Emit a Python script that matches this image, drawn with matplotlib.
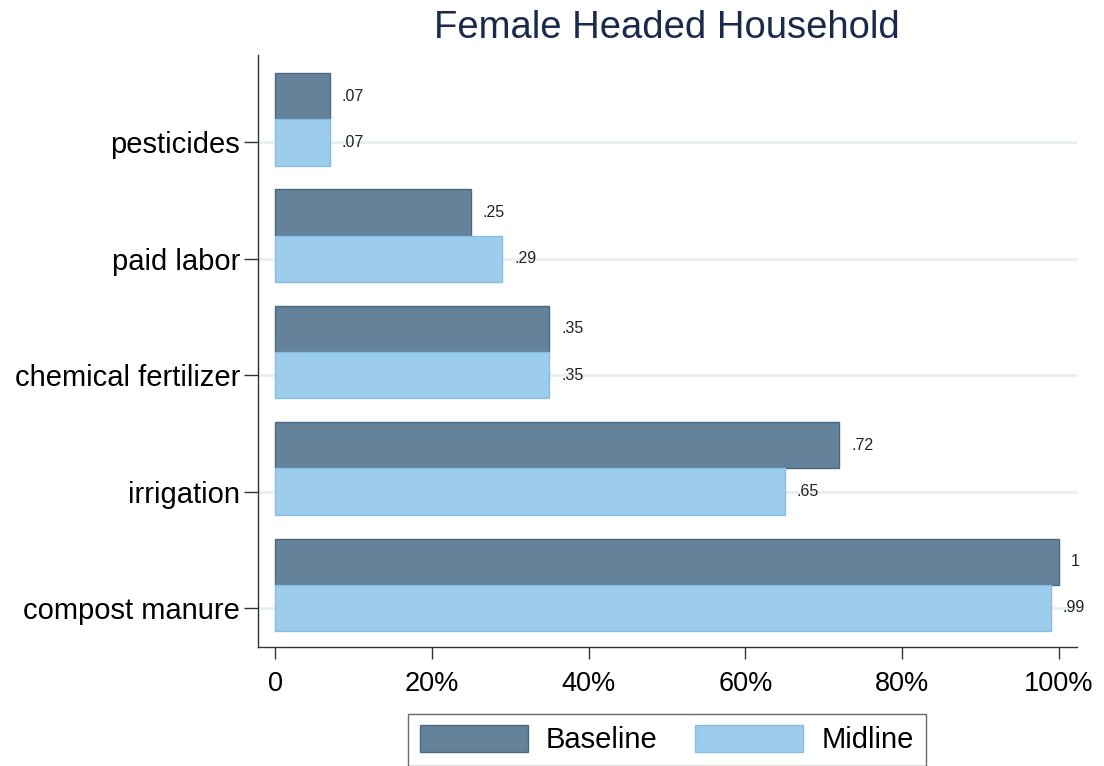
import matplotlib
matplotlib.use("Agg")
import matplotlib.pyplot as plt
import numpy as np
from matplotlib.patches import Patch

categories = ["compost manure", "irrigation", "chemical fertilizer", "paid labor", "pesticides"]
baseline = [1.00, 0.72, 0.35, 0.25, 0.07]
midline = [0.99, 0.65, 0.35, 0.29, 0.07]
baseline_labels = ["1", ".72", ".35", ".25", ".07"]
midline_labels = [".99", ".65", ".35", ".29", ".07"]
xticks = [0, 0.2, 0.4, 0.6, 0.8, 1.0]
xticklabels = ["0", "20%", "40%", "60%", "80%", "100%"]

plt.rcParams['font.family'] = ['Liberation Sans', 'DejaVu Sans']

fig = plt.figure(figsize=(11.04, 7.66), dpi=100)
ax = fig.add_axes([0.2337, 0.1554, 0.9755 - 0.2337, 0.928 - 0.1554])

pos = np.arange(len(categories))
h = 0.397
c_base = "#64829a"
e_base = "#4a6a82"
c_mid = "#9dcdec"
e_mid = "#86bde4"

for y in pos:
    ax.axhline(y, color="#e6eff3", lw=2, zorder=0)

ax.barh(pos + h, baseline, height=h, color=c_base, edgecolor=e_base, lw=1, zorder=2)
ax.barh(pos, midline, height=h, color=c_mid, edgecolor=e_mid, lw=1, zorder=2)

for y, v, t in zip(pos, baseline, baseline_labels):
    ax.text(v + 0.015, y + h, t, va="center", ha="left", fontsize=11.5, color="#222222")
for y, v, t in zip(pos, midline, midline_labels):
    ax.text(v + 0.015, y, t, va="center", ha="left", fontsize=11.5, color="#222222")

ax.set_xlim(-0.0217, 1.023)
ax.set_ylim(-0.336, 4.75)
ax.set_yticks(pos)
ax.set_yticklabels(categories, fontsize=21)
ax.set_xticks(xticks)
ax.set_xticklabels(xticklabels, fontsize=19.5)
ax.tick_params(axis="y", length=10, width=1, color="#333333", pad=3)
ax.tick_params(axis="x", length=8.6, width=1, color="#333333", pad=9)

for s in ["top", "right"]:
    ax.spines[s].set_visible(False)
for s in ["left", "bottom"]:
    ax.spines[s].set_color("#333333")
    ax.spines[s].set_linewidth(1)

fig.text(0.604, 0.963, "Female Headed Household", ha="center", va="center",
         fontsize=27.5, color="#1a2a4a")

handles = [Patch(facecolor=c_base, edgecolor=e_base, label="Baseline"),
           Patch(facecolor=c_mid, edgecolor=e_mid, label="Midline")]
leg = fig.legend(handles=handles, loc="center", bbox_to_anchor=(0.604, 0.034), ncol=2,
                 fontsize=21, frameon=True, fancybox=False, edgecolor="#444444",
                 handlelength=3.7, handleheight=1.0, columnspacing=1.3, handletextpad=0.62,
                 borderpad=0.4)
leg.get_frame().set_linewidth(1)

fig.savefig("out.png", dpi=100, facecolor="white")
